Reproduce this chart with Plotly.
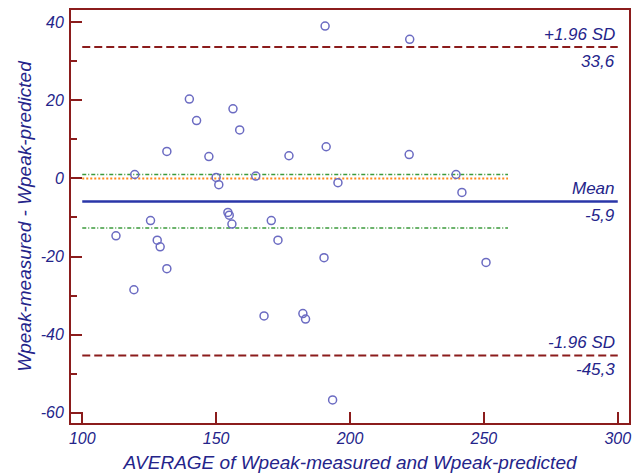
import plotly.graph_objects as go

# Bland-Altman data (average, difference)
avg_vals = [140.0, 156.3, 142.7, 158.8, 131.6, 147.3, 119.6, 150.0, 151.0, 154.4,
            154.9, 125.5, 155.9, 112.6, 128.0, 129.1, 131.6, 119.3, 190.7, 177.2,
            191.1, 164.8, 195.5, 222.3, 222.1, 239.6, 241.8, 250.8, 170.6, 173.1,
            190.3, 167.9, 182.4, 183.4, 193.5]
diff_vals = [20.3, 17.8, 14.8, 12.4, 6.9, 5.6, 1.0, 0.25, -1.6, -8.7,
             -9.4, -10.8, -11.7, -14.7, -15.8, -17.5, -23.1, -28.5, 39.0, 5.8,
             8.1, 0.6, -1.1, 35.6, 6.1, 1.0, -3.6, -21.5, -10.8, -15.8,
             -20.3, -35.2, -34.6, -36.0, -56.7]

mean_diff = -5.9
upper_loa = 33.6
lower_loa = -45.3
ci_mean = [1.0, -12.7]
zero_line = 0.0

line_x = [100, 300]
short_x = [100, 259]

x_ticks = [100, 150, 200, 250, 300]
y_ticks = [-60, -40, -20, 0, 20, 40]

label_upper = ["+1.96 SD", "33,6"]
label_mean = ["Mean", "-5,9"]
label_lower = ["-1.96 SD", "-45,3"]

BLUE_TXT = "#24248a"
FRAME = "#8b1c1c"
PT = "#6b6bc2"
FONT = "Liberation Sans, Arial, sans-serif"

fig = go.Figure()

# zero line (orange dotted)
fig.add_trace(go.Scatter(x=short_x, y=[zero_line, zero_line], mode="lines",
                         line=dict(color="#ff8a1e", width=2, dash="2px,2px"),
                         hoverinfo="skip", showlegend=False))
# CI of mean (green dash-dot)
for v in ci_mean:
    fig.add_trace(go.Scatter(x=short_x, y=[v, v], mode="lines",
                             line=dict(color="#3c9a3c", width=1.5, dash="4px,2px,1px,2px"),
                             hoverinfo="skip", showlegend=False))
# limits of agreement
for v in [upper_loa, lower_loa]:
    fig.add_trace(go.Scatter(x=line_x, y=[v, v], mode="lines",
                             line=dict(color=FRAME, width=2, dash="8px,4px"),
                             hoverinfo="skip", showlegend=False))
# mean
fig.add_trace(go.Scatter(x=line_x, y=[mean_diff, mean_diff], mode="lines",
                         line=dict(color="#2a36a8", width=2.5),
                         hoverinfo="skip", showlegend=False))
# points
fig.add_trace(go.Scatter(x=avg_vals, y=diff_vals, mode="markers",
                         marker=dict(symbol="circle-open", size=8, color=PT,
                                     line=dict(width=1.5, color=PT)),
                         showlegend=False))

ann_font = dict(family=FONT, size=17, color=BLUE_TXT)
for val, labels in [(upper_loa, label_upper), (mean_diff, label_mean), (lower_loa, label_lower)]:
    fig.add_annotation(x=300, y=val, xref="x", yref="y", text="<i>%s</i>" % labels[0],
                       showarrow=False, xanchor="right", yanchor="bottom", yshift=1, xshift=-1,
                       font=ann_font)
    fig.add_annotation(x=300, y=val, xref="x", yref="y", text="<i>%s</i>" % labels[1],
                       showarrow=False, xanchor="right", yanchor="top", yshift=-3, xshift=-1,
                       font=ann_font)

axis_common = dict(showline=True, linecolor=FRAME, linewidth=2, mirror=True,
                   ticks="inside", tickcolor=FRAME, tickwidth=2, ticklen=11,
                   showgrid=False, zeroline=False, automargin=False,
                   tickfont=dict(family=FONT, size=16, color=BLUE_TXT))

fig.update_xaxes(range=[95.8, 304.2], tickvals=x_ticks,
                 ticktext=["<i>%d</i>" % t for t in x_ticks],
                 title=dict(text="<i>AVERAGE of Wpeak-measured and Wpeak-predicted</i>",
                            font=dict(family=FONT, size=19, color=BLUE_TXT)),
                 **axis_common)
fig.update_yaxes(range=[-62.6, 43.1], tickvals=y_ticks,
                 ticktext=["<i>%d</i>" % t for t in y_ticks],
                 ticklabelstandoff=2,
                 minor=dict(dtick=10, ticks="inside", ticklen=6, tickcolor=FRAME, tickwidth=2),
                 title=dict(text="<i>Wpeak-measured - Wpeak-predicted</i>",
                            font=dict(family=FONT, size=19, color=BLUE_TXT), standoff=4),
                 **axis_common)

fig.update_layout(width=640, height=473, margin=dict(l=71, r=11, t=10, b=50),
                  paper_bgcolor="white", plot_bgcolor="white")

fig.write_html("out.html", config={"displayModeBar": False},
               post_script="document.body.style.margin='0px';document.body.style.overflow='hidden';")
